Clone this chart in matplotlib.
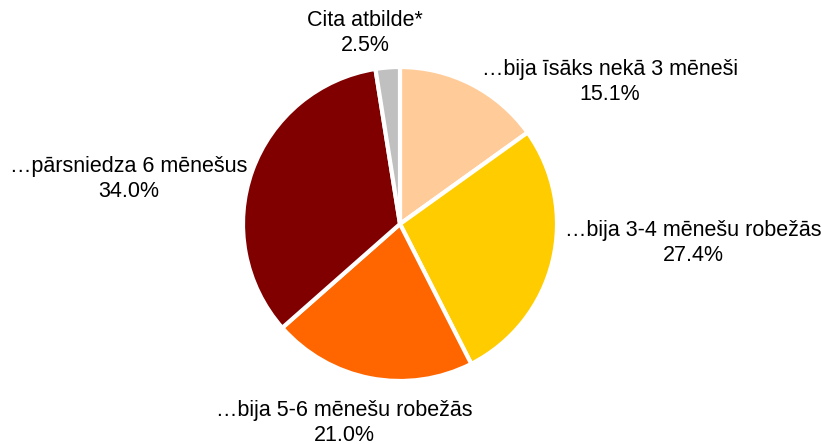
import matplotlib
matplotlib.use('Agg')
import matplotlib.pyplot as plt

categories = ['…bija īsāks nekā 3 mēneši', '…bija 3-4 mēnešu robežās',
              '…bija 5-6 mēnešu robežās', '…pārsniedza 6 mēnešus', 'Cita atbilde*']
shares = [15.1, 27.4, 21.0, 34.0, 2.5]
colors = ['#FFCC99', '#FFCC00', '#FF6600', '#800000', '#C0C0C0']

# label block centres (pie radius = 1)
label_pos = [(1.338, 0.904), (1.866, -0.121), (-0.357, -1.268),
             (-1.726, 0.287), (-0.223, 1.217)]

plt.rcParams['font.family'] = ['Liberation Sans', 'DejaVu Sans']

fig = plt.figure(figsize=(8.22, 4.44), dpi=100)
fig.patch.set_facecolor('white')
ax = fig.add_axes([0, 0, 1, 1])

ax.pie(shares, colors=colors, startangle=90, counterclock=False, radius=1,
       wedgeprops=dict(edgecolor='white', linewidth=3))

for cat, val, (x, y) in zip(categories, shares, label_pos):
    ax.text(x, y, f'{cat}\n{val:.1f}%', ha='center', va='center',
            fontsize=15.5, color='black', linespacing=1.25)

ax.set_xlim(-400 / 157, 422 / 157)
ax.set_ylim(-220 / 157, 224 / 157)
ax.set_aspect('auto')
ax.axis('off')

fig.savefig('out.png', dpi=100, facecolor='white')
plt.close(fig)
